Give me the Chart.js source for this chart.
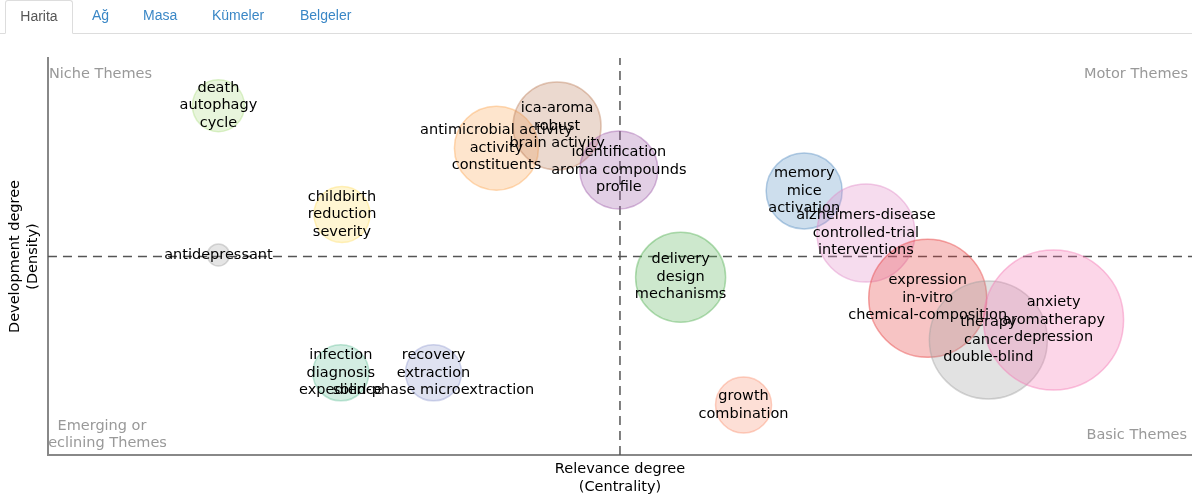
<!DOCTYPE html>
<html>
<head>
<meta charset="utf-8">
<script src="https://cdn.jsdelivr.net/npm/chart.js@4"></script>
<style>
    body { margin: 0; background: #fff; }
    .tabs { position: absolute; left: 0; top: 0; width: 1192px; height: 33px; border-bottom: 1px solid #ddd; z-index: 2; font-family: "Liberation Sans", Arial, sans-serif; font-size: 14px; }
    .tab { position: absolute; top: 0; height: 33px; line-height: 30px; color: #3a87c6; }
    .tab.active { left: 5px; width: 68px; height: 34px; box-sizing: border-box; border: 1px solid #ddd; border-bottom: 1px solid #fff; border-radius: 3px 3px 0 0; background: #fff; color: #555; text-align: center; }
    #wrap { position: absolute; left: 0; top: 0; width: 1192px; height: 499px; }
</style>
</head>
<body>
<div class="tabs">
    <div class="tab active">Harita</div>
    <div class="tab" style="left:92px">Ağ</div>
    <div class="tab" style="left:143px">Masa</div>
    <div class="tab" style="left:212px">Kümeler</div>
    <div class="tab" style="left:300px">Belgeler</div>
</div>
<div id="wrap"><canvas id="mapChart"></canvas></div>
<script>
// thematic map values (centrality / density, 0-100 scaled), bubble size
const themeLabels = [
    ['death', 'autophagy', 'cycle'],
    ['antidepressant'],
    ['childbirth', 'reduction', 'severity'],
    ['antimicrobial activity', 'activity', 'constituents'],
    ['ica-aroma', 'robust', 'brain activity'],
    ['identification', 'aroma compounds', 'profile'],
    ['memory', 'mice', 'activation'],
    ['alzheimers-disease', 'controlled-trial', 'interventions'],
    ['delivery', 'design', 'mechanisms'],
    ['expression', 'in-vitro', 'chemical-composition'],
    ['therapy', 'cancer', 'double-blind'],
    ['anxiety', 'aromatherapy', 'depression'],
    ['infection', 'diagnosis', 'expedience'],
    ['recovery', 'extraction', 'solid-phase microextraction'],
    ['growth', 'combination']
];
const centrality = [14.9, 14.9, 25.7, 39.2, 44.5, 49.9, 66.1, 71.5, 55.3, 76.9, 82.2, 87.9, 25.6, 33.7, 60.8];
const density    = [88.0, 50.4, 60.6, 77.3, 82.9, 71.8, 66.5, 55.9, 44.8, 39.5, 29.0, 34.0, 20.7, 20.7, 12.6];
const bubbleSize = [26, 11, 28, 42, 44, 39, 38, 49, 45, 59, 59, 70, 28, 28, 28];

const themeColors = [
    [178, 223, 138], [170, 170, 170], [255, 225, 110], [253, 170, 90],
    [190, 130, 95], [160, 95, 170], [90, 145, 195], [225, 140, 200],
    [90, 180, 90], [230, 60, 60], [160, 160, 160], [245, 120, 180],
    [110, 195, 160], [150, 160, 210], [250, 150, 120]
];
const fills = themeColors.map(c => `rgba(${c[0]},${c[1]},${c[2]},0.3)`);
const strokes = themeColors.map(c => `rgba(${c[0]},${c[1]},${c[2]},0.45)`);

const FONT = '"DejaVu Sans", Verdana, sans-serif';
const FSIZE = 14.5;

const themeMap = {
    id: 'themeMap',
    beforeDatasetsDraw(chart) {
        const { ctx, chartArea: a, scales } = chart;
        const cx = scales.x.getPixelForValue(50);
        const cy = scales.y.getPixelForValue(50);
        ctx.save();
        ctx.strokeStyle = '#555';
        ctx.lineWidth = 1.5;
        ctx.setLineDash([9, 6]);
        ctx.beginPath();
        ctx.moveTo(a.left, cy);
        ctx.lineTo(a.right, cy);
        ctx.moveTo(cx, a.bottom);
        ctx.lineTo(cx, a.top);
        ctx.stroke();
        ctx.setLineDash([]);

        ctx.beginPath();
        ctx.rect(a.left, a.top - 30, a.right - a.left, a.bottom - a.top + 30);
        ctx.clip();
        ctx.fillStyle = '#999';
        ctx.font = FSIZE + 'px ' + FONT;
        ctx.textBaseline = 'middle';
        ctx.textAlign = 'left';
        ctx.fillText('Niche Themes', a.left + 1, a.top + 16);
        ctx.textAlign = 'right';
        ctx.fillText('Motor Themes', a.right - 4, a.top + 16);
        ctx.fillText('Basic Themes', a.right - 5, a.bottom - 20);
        ctx.textAlign = 'center';
        ctx.fillText('Emerging or', a.left + 54, a.bottom - 29);
        ctx.fillText('Declining Themes', a.left + 54, a.bottom - 12);
        ctx.restore();
    },
    afterDatasetsDraw(chart) {
        const { ctx } = chart;
        const meta = chart.getDatasetMeta(0);
        ctx.save();
        ctx.font = FSIZE + 'px ' + FONT;
        ctx.fillStyle = '#000';
        ctx.textAlign = 'center';
        ctx.textBaseline = 'middle';
        meta.data.forEach((pt, i) => {
            const lines = themeLabels[i];
            const lh = 17.5;
            const y0 = pt.y - (lines.length - 1) * lh / 2;
            lines.forEach((t, j) => ctx.fillText(t, pt.x, y0 + j * lh));
        });
        ctx.restore();
    }
};

new Chart(document.getElementById('mapChart'), {
    type: 'bubble',
    data: {
        datasets: [{
            data: centrality.map((v, i) => ({ x: v, y: density[i], r: bubbleSize[i] })),
            backgroundColor: fills,
            borderColor: strokes,
            borderWidth: 1.5
        }]
    },
    options: {
        responsive: true,
        maintainAspectRatio: false,
        animation: false,
        layout: { autoPadding: false, padding: { top: 58, right: 0, left: 0, bottom: 0 } },
        plugins: { legend: { display: false }, tooltip: { enabled: false } },
        scales: {
            x: {
                type: 'linear', min: 0, max: 100,
                grid: { display: false, drawTicks: false },
                border: { display: true, color: '#888', width: 2 },
                ticks: { display: false },
                title: {
                    display: true,
                    text: ['Relevance degree', '(Centrality)'],
                    color: '#000',
                    font: { family: FONT, size: FSIZE, lineHeight: 1.24 },
                    padding: { top: 5, bottom: 3 }
                }
            },
            y: {
                type: 'linear', min: 0, max: 100,
                grid: { display: false, drawTicks: false },
                border: { display: true, color: '#888', width: 2 },
                ticks: { display: false },
                title: {
                    display: true,
                    text: ['Development degree', '(Density)'],
                    color: '#000',
                    font: { family: FONT, size: FSIZE, lineHeight: 1.24 },
                    padding: { top: 6, bottom: 6 }
                }
            }
        }
    },
    plugins: [themeMap]
});
</script>
</body>
</html>
